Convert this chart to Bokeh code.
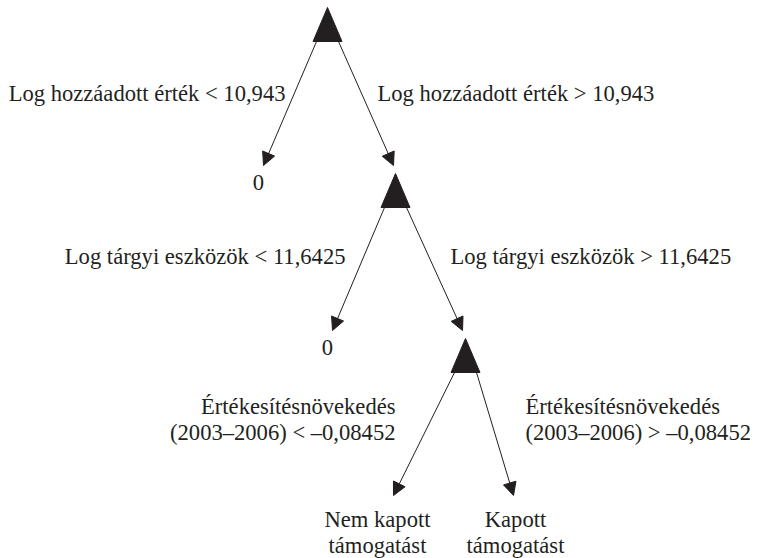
from bokeh.plotting import figure
from bokeh.models import Range1d, Arrow, NormalHead
from bokeh.core.properties import value
from bokeh.embed import file_html
from bokeh.resources import INLINE

# ---- tree content ----
split_vars = ["Log hozzáadott érték", "Log tárgyi eszközök", "Értékesítésnövekedés (2003–2006)"]
thresholds = ["10,943", "11,6425", "–0,08452"]
leaf_left = ["0", "0", "Nem kapott\ntámogatást"]
leaf_right_final = "Kapott\ntámogatást"

# ---- layout (page pixels) ----
node_x = [327, 395, 465]
node_y = [7, 173, 338]
left_tip_x = [263, 332, 393]
left_tip_y = [165, 330, 495]
right_tip_x = [393, 462, 513]
right_tip_y = [165, 330, 495]
left_lab_x = [285, 345, 395]
right_lab_x = [377, 450, 525]
lab_y = [93, 256, 406]
leaf_x = [258, 327, 377]
leaf_y = [182, 347, 519]
final_leaf_x = 515

TRI_W, TRI_H = 29, 34
LINE_H = 26
INK = "#231f20"
FONT = "Liberation Serif"
FSIZE = "22.6px"

W, H = 757, 558
p = figure(width=W, height=H, output_backend="svg", toolbar_location=None,
           x_range=Range1d(0, W), y_range=Range1d(H, 0),
           min_border=0, outline_line_color=None)
p.axis.visible = False
p.grid.visible = False
p.background_fill_color = "white"
p.border_fill_color = "white"

# triangles (split nodes)
xs, ys = [], []
for x, y in zip(node_x, node_y):
    xs.append([x, x - TRI_W / 2, x + TRI_W / 2])
    ys.append([y, y + TRI_H, y + TRI_H])
p.patches(xs, ys, fill_color=INK, line_color=INK, line_width=1)

# arrows
for i in range(3):
    bx = node_y[i] + TRI_H
    p.add_layout(Arrow(x_start=node_x[i] - 11, y_start=bx, x_end=left_tip_x[i], y_end=left_tip_y[i],
                       line_color=INK, line_width=1,
                       end=NormalHead(size=13, fill_color=INK, line_color=INK, line_width=1)))
    p.add_layout(Arrow(x_start=node_x[i] + 11, y_start=bx, x_end=right_tip_x[i], y_end=right_tip_y[i],
                       line_color=INK, line_width=1,
                       end=NormalHead(size=13, fill_color=INK, line_color=INK, line_width=1)))

# split labels
lx, ly, lt = [], [], []
rx, ry, rt = [], [], []
for i in range(3):
    var = split_vars[i]
    if i == 2:
        first, second = var.split(" ", 1)
        lines_l = [first, f"{second} < {thresholds[i]}"]
        lines_r = [first, f"{second} > {thresholds[i]}"]
    else:
        lines_l = [f"{var} < {thresholds[i]}"]
        lines_r = [f"{var} > {thresholds[i]}"]
    for k, t in enumerate(lines_l):
        lx.append(left_lab_x[i]); ly.append(lab_y[i] + k * LINE_H); lt.append(t)
    for k, t in enumerate(lines_r):
        rx.append(right_lab_x[i]); ry.append(lab_y[i] + k * LINE_H); rt.append(t)

p.text(x=lx, y=ly, text=lt, text_align="right", text_baseline="middle",
       text_font=value(FONT), text_font_size=FSIZE, text_color=INK)
p.text(x=rx, y=ry, text=rt, text_align="left", text_baseline="middle",
       text_font=value(FONT), text_font_size=FSIZE, text_color=INK)

# leaves
cx, cy, ct = [], [], []
for i in range(3):
    for k, t in enumerate(leaf_left[i].split("\n")):
        cx.append(leaf_x[i]); cy.append(leaf_y[i] + k * LINE_H); ct.append(t)
for k, t in enumerate(leaf_right_final.split("\n")):
    cx.append(final_leaf_x); cy.append(leaf_y[2] + k * LINE_H); ct.append(t)
p.text(x=cx, y=cy, text=ct, text_align="center", text_baseline="middle",
       text_font=value(FONT), text_font_size=FSIZE, text_color=INK)

open("out.html", "w").write(file_html(p, INLINE))
